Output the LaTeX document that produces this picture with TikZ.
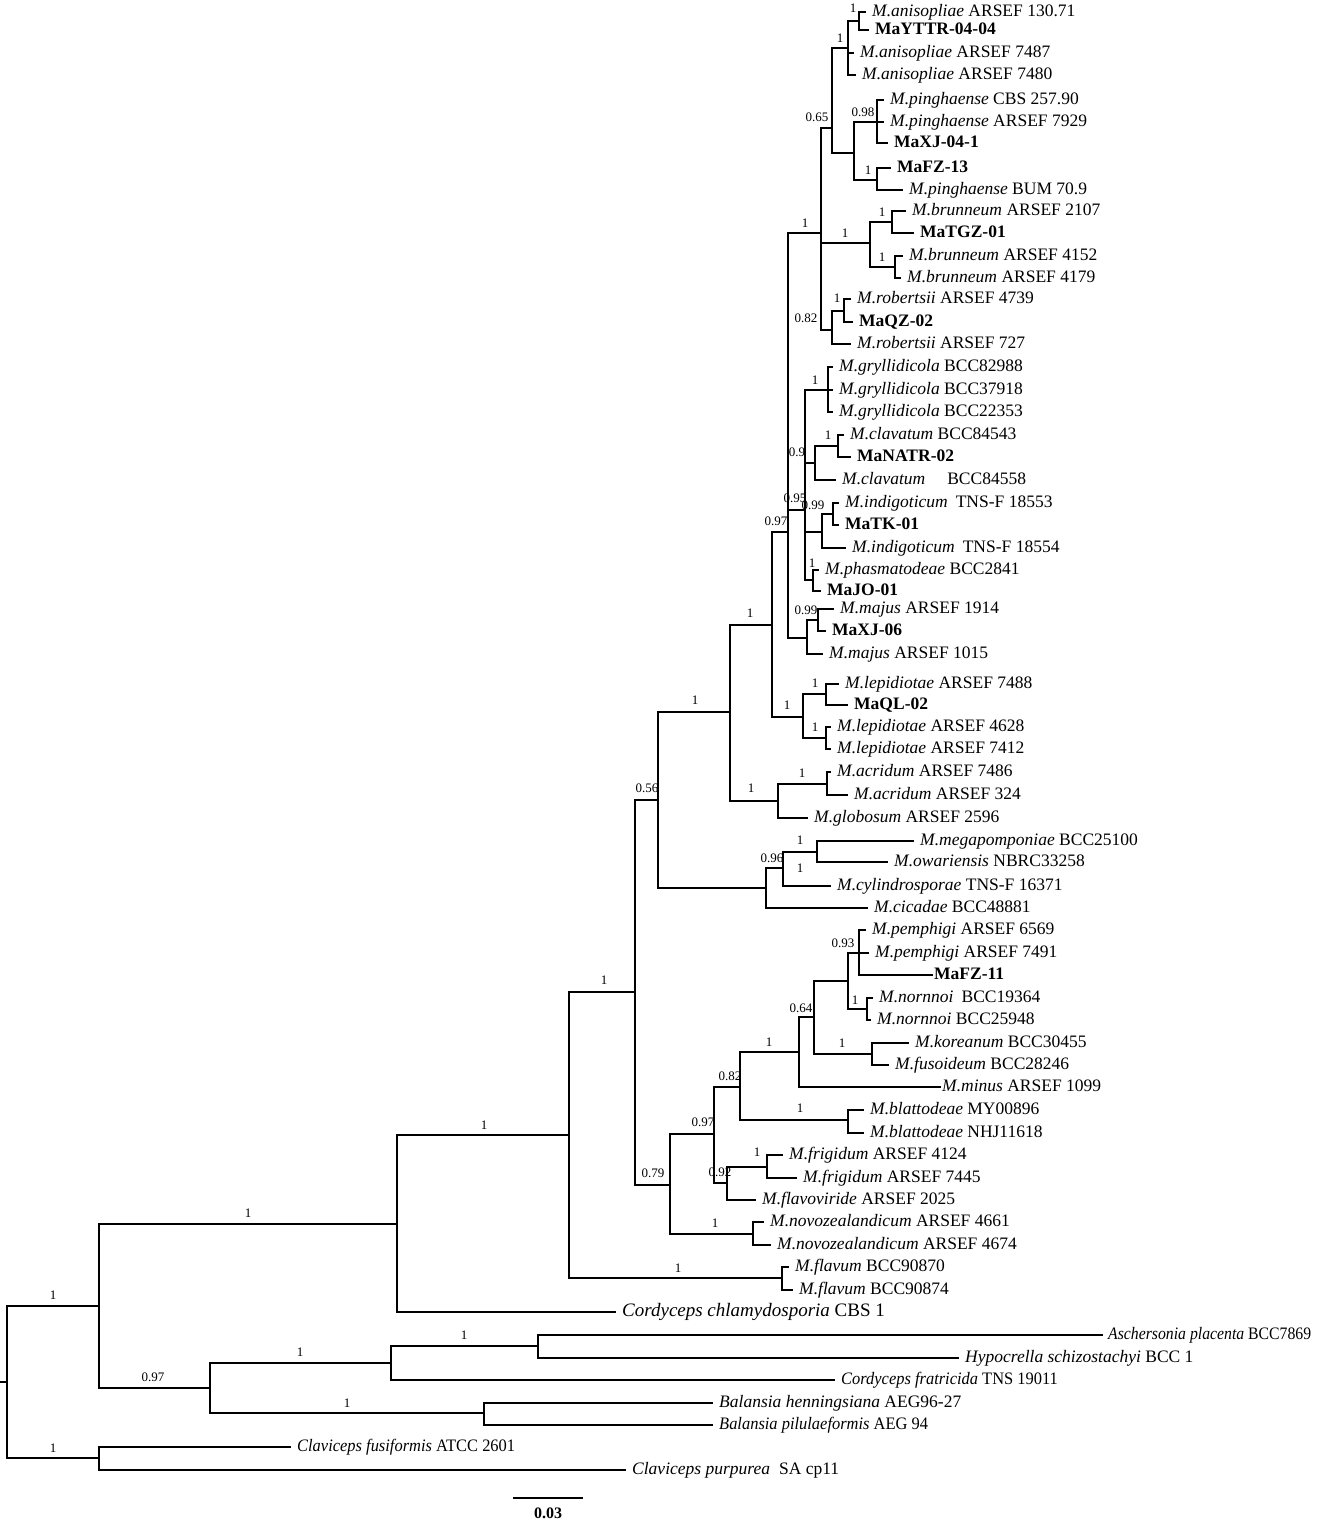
\documentclass[tikz,border=0pt]{standalone}
\usepackage{fontspec}
\usepackage{graphicx}
\setmainfont{Liberation Serif}
\usetikzlibrary{positioning}
\tikzset{br/.style={line width=2pt,line cap=rect}}
\tikzset{tip/.style={anchor=west,inner xsep=7pt,inner ysep=0pt,text height=12pt,text depth=3.5pt,font=\fontsize{17.5}{18}\selectfont}}
\tikzset{prob/.style={inner sep=0pt,font=\fontsize{13}{14}\selectfont}}
\newcommand{\Sp}[2]{\textit{#1} #2}
\newcommand{\Iso}[1]{\textbf{#1}}

\begin{document}
\begin{tikzpicture}[x=1pt,y=-1pt]
\useasboundingbox (0,0) rectangle (1325,1523);
% \draw[help lines] (0,0) grid[step=100] (1325,1523);
%
% internal nodes
\coordinate (root) at (7,1382);
\coordinate (rtick) at (1,1382);
\coordinate (nDD) at (99,1306);
\coordinate (nII) at (99,1458);
\coordinate (nCC) at (397,1224);
\coordinate (nEE) at (210,1388);
\coordinate (nFF) at (391,1363);
\coordinate (nGG) at (538,1346);
\coordinate (nHH) at (484,1413);
\coordinate (nBB) at (569,1135);
\coordinate (nFv) at (782,1278);
\coordinate (nAA) at (635,992);
\coordinate (nCc) at (670,1185);
\coordinate (nNz) at (753,1234);
\coordinate (nBf) at (714,1134);
\coordinate (nFr) at (727,1183);
\coordinate (nFr1) at (767,1167);
\coordinate (nBl) at (740,1087);
\coordinate (nBt) at (848,1120);
\coordinate (nMi) at (799,1052);
\coordinate (nPk) at (814,1017);
\coordinate (nKo) at (872,1054);
\coordinate (nPn) at (848,981);
\coordinate (nPm) at (859,953);
\coordinate (nNo) at (867,1009);
\coordinate (nY) at (658,800);
\coordinate (nZ) at (766,888);
\coordinate (nZ1) at (783,868);
\coordinate (nZ2) at (817,852);
\coordinate (nX) at (730,712);
\coordinate (nK) at (778,801);
\coordinate (nK1) at (827,784);
\coordinate (nW) at (772,625);
\coordinate (nL) at (803,717);
\coordinate (nL1) at (826,694);
\coordinate (nL2) at (826,738);
\coordinate (nU) at (788,532);
\coordinate (nM) at (807,638);
\coordinate (nM1) at (818,620);
\coordinate (nV) at (805,510);
\coordinate (nG) at (828,390);
\coordinate (nC) at (815,463);
\coordinate (nC1) at (838,446);
\coordinate (nI) at (822,532);
\coordinate (nI1) at (833,514);
\coordinate (nPh) at (813,580);
\coordinate (nT) at (821,233);
\coordinate (nR2) at (832,330);
\coordinate (nR1) at (844,311);
\coordinate (nB) at (870,243);
\coordinate (nB1) at (892,222);
\coordinate (nB2) at (895,267);
\coordinate (nS) at (832,128);
\coordinate (nA2) at (848,48);
\coordinate (nA1) at (859,21);
\coordinate (nR) at (854,153);
\coordinate (nP) at (877,122);
\coordinate (nQ) at (877,180);
%
% taxa
\node (anis1) [tip] at (865,12) {\Sp{M.anisopliae}{ARSEF 130.71}};
\node (mayttr) [tip] at (868,30) {\Iso{MaYTTR-04-04}};
\node (anis2) [tip] at (853,53) {\Sp{M.anisopliae}{ARSEF 7487}};
\node (anis3) [tip] at (855,75) {\Sp{M.anisopliae}{ARSEF 7480}};
\node (ping1) [tip] at (883,100) {\Sp{M.pinghaense}{CBS 257.90}};
\node (ping2) [tip] at (883,122) {\Sp{M.pinghaense}{ARSEF 7929}};
\node (maxjb) [tip] at (887,143) {\Iso{MaXJ-04-1}};
\node (mafza) [tip] at (890,168) {\Iso{MaFZ-13}};
\node (ping3) [tip] at (902,190) {\Sp{M.pinghaense}{BUM 70.9}};
\node (brun1) [tip] at (905,211) {\Sp{M.brunneum}{ARSEF 2107}};
\node (matgz) [tip] at (913,233) {\Iso{MaTGZ-01}};
\node (brun2) [tip] at (902,256) {\Sp{M.brunneum}{ARSEF 4152}};
\node (brun3) [tip] at (900,278) {\Sp{M.brunneum}{ARSEF 4179}};
\node (robe1) [tip] at (850,299) {\Sp{M.robertsii}{ARSEF 4739}};
\node (maqz) [tip] at (852,322) {\Iso{MaQZ-02}};
\node (robe2) [tip] at (850,344) {\Sp{M.robertsii}{ARSEF 727}};
\node (gryl1) [tip] at (832,367) {\Sp{M.gryllidicola}{BCC82988}};
\node (gryl2) [tip] at (832,390) {\Sp{M.gryllidicola}{BCC37918}};
\node (gryl3) [tip] at (832,412) {\Sp{M.gryllidicola}{BCC22353}};
\node (clav1) [tip] at (843,435) {\Sp{M.clavatum}{BCC84543}};
\node (manatr) [tip] at (850,457) {\Iso{MaNATR-02}};
\node (clav2) [tip] at (835,480) {\textit{M.clavatum}\hspace{22pt}BCC84558};
\node (indi1) [tip] at (838,503) {\textit{M.indigoticum}\hspace{8pt}TNS-F 18553};
\node (matk) [tip] at (838,525) {\Iso{MaTK-01}};
\node (indi2) [tip] at (845,548) {\textit{M.indigoticum}\hspace{8pt}TNS-F 18554};
\node (phas) [tip] at (818,570) {\Sp{M.phasmatodeae}{BCC2841}};
\node (majo) [tip] at (820,591) {\Iso{MaJO-01}};
\node (maju1) [tip] at (833,609) {\Sp{M.majus}{ARSEF 1914}};
\node (maxjc) [tip] at (825,631) {\Iso{MaXJ-06}};
\node (maju2) [tip] at (822,654) {\Sp{M.majus}{ARSEF 1015}};
\node (lepi1) [tip] at (838,684) {\Sp{M.lepidiotae}{ARSEF 7488}};
\node (maql) [tip] at (847,705) {\Iso{MaQL-02}};
\node (lepi2) [tip] at (830,727) {\Sp{M.lepidiotae}{ARSEF 4628}};
\node (lepi3) [tip] at (830,749) {\Sp{M.lepidiotae}{ARSEF 7412}};
\node (acri1) [tip] at (830,772) {\Sp{M.acridum}{ARSEF 7486}};
\node (acri2) [tip] at (847,795) {\Sp{M.acridum}{ARSEF 324}};
\node (glob) [tip] at (807,818) {\Sp{M.globosum}{ARSEF 2596}};
\node (mega) [tip] at (913,841) {\Sp{M.megapomponiae}{BCC25100}};
\node (owar) [tip] at (887,862) {\Sp{M.owariensis}{NBRC33258}};
\node (cyli) [tip] at (830,886) {\Sp{M.cylindrosporae}{TNS-F 16371}};
\node (cica) [tip] at (867,908) {\Sp{M.cicadae}{BCC48881}};
\node (pemp1) [tip] at (865,930) {\Sp{M.pemphigi}{ARSEF 6569}};
\node (pemp2) [tip] at (868,953) {\Sp{M.pemphigi}{ARSEF 7491}};
\node (mafzb) [tip,inner xsep=2pt] at (932,975) {\Iso{MaFZ-11}};
\node (norn1) [tip] at (872,998) {\textit{M.nornnoi}\hspace{8pt}BCC19364};
\node (norn2) [tip] at (870,1020) {\Sp{M.nornnoi}{BCC25948}};
\node (kore) [tip] at (908,1043) {\Sp{M.koreanum}{BCC30455}};
\node (fuso) [tip] at (888,1065) {\Sp{M.fusoideum}{BCC28246}};
\node (minu) [tip,inner xsep=2pt] at (940,1087) {\Sp{M.minus}{ARSEF 1099}};
\node (blat1) [tip] at (863,1110) {\Sp{M.blattodeae}{MY00896}};
\node (blat2) [tip] at (863,1133) {\Sp{M.blattodeae}{NHJ11618}};
\node (frig1) [tip] at (782,1155) {\Sp{M.frigidum}{ARSEF 4124}};
\node (frig2) [tip] at (796,1178) {\Sp{M.frigidum}{ARSEF 7445}};
\node (flvi) [tip] at (755,1200) {\Sp{M.flavoviride}{ARSEF 2025}};
\node (novo1) [tip] at (763,1222) {\Sp{M.novozealandicum}{ARSEF 4661}};
\node (novo2) [tip] at (770,1245) {\Sp{M.novozealandicum}{ARSEF 4674}};
\node (flvm1) [tip] at (788,1267) {\Sp{M.flavum}{BCC90870}};
\node (flvm2) [tip] at (792,1290) {\Sp{M.flavum}{BCC90874}};
\node (chla) [tip,font=\fontsize{19}{20}\selectfont] at (615,1312) {\Sp{Cordyceps chlamydosporia}{CBS 1}};
\node (asch) [tip,inner xsep=6pt] at (1102,1335) {\scalebox{0.9}[1]{\Sp{Aschersonia placenta}{BCC7869}}};
\node (hypo) [tip] at (958,1358) {\Sp{Hypocrella schizostachyi}{BCC 1}};
\node (frat) [tip] at (834,1380) {\scalebox{0.94}[1]{\Sp{Cordyceps fratricida}{TNS 19011}}};
\node (bhen) [tip] at (712,1403) {\Sp{Balansia henningsiana}{AEG96-27}};
\node (bpil) [tip] at (712,1425) {\scalebox{0.94}[1]{\Sp{Balansia pilulaeformis}{AEG 94}}};
\node (cfus) [tip] at (290,1447) {\scalebox{0.94}[1]{\Sp{Claviceps fusiformis}{ATCC 2601}}};
\node (cpur) [tip] at (625,1470) {\textit{Claviceps purpurea}\hspace{9pt}SA cp11};
%
% branches
\draw[br] (rtick) -- (root);
\foreach \c in {nDD,nII} \draw[br] (root) |- (\c);
\foreach \c in {nCC,nEE} \draw[br] (nDD) |- (\c);
\foreach \c in {cfus,cpur} \draw[br] (nII) |- (\c);
\foreach \c in {nBB,chla} \draw[br] (nCC) |- (\c);
\foreach \c in {nFF,nHH} \draw[br] (nEE) |- (\c);
\foreach \c in {nGG,frat} \draw[br] (nFF) |- (\c);
\foreach \c in {asch,hypo} \draw[br] (nGG) |- (\c);
\foreach \c in {bhen,bpil} \draw[br] (nHH) |- (\c);
\foreach \c in {nAA,nFv} \draw[br] (nBB) |- (\c);
\foreach \c in {flvm1,flvm2} \draw[br] (nFv) |- (\c);
\foreach \c in {nY,nCc} \draw[br] (nAA) |- (\c);
\foreach \c in {nBf,nNz} \draw[br] (nCc) |- (\c);
\foreach \c in {novo1,novo2} \draw[br] (nNz) |- (\c);
\foreach \c in {nBl,nFr} \draw[br] (nBf) |- (\c);
\foreach \c in {nFr1,flvi} \draw[br] (nFr) |- (\c);
\foreach \c in {frig1,frig2} \draw[br] (nFr1) |- (\c);
\foreach \c in {nMi,nBt} \draw[br] (nBl) |- (\c);
\foreach \c in {blat1,blat2} \draw[br] (nBt) |- (\c);
\foreach \c in {nPk,minu} \draw[br] (nMi) |- (\c);
\foreach \c in {nPn,nKo} \draw[br] (nPk) |- (\c);
\foreach \c in {kore,fuso} \draw[br] (nKo) |- (\c);
\foreach \c in {nPm,nNo} \draw[br] (nPn) |- (\c);
\foreach \c in {pemp1,pemp2,mafzb} \draw[br] (nPm) |- (\c);
\foreach \c in {norn1,norn2} \draw[br] (nNo) |- (\c);
\foreach \c in {nX,nZ} \draw[br] (nY) |- (\c);
\foreach \c in {nZ1,cica} \draw[br] (nZ) |- (\c);
\foreach \c in {nZ2,cyli} \draw[br] (nZ1) |- (\c);
\foreach \c in {mega,owar} \draw[br] (nZ2) |- (\c);
\foreach \c in {nW,nK} \draw[br] (nX) |- (\c);
\foreach \c in {nK1,glob} \draw[br] (nK) |- (\c);
\foreach \c in {acri1,acri2} \draw[br] (nK1) |- (\c);
\foreach \c in {nU,nL} \draw[br] (nW) |- (\c);
\foreach \c in {nL1,nL2} \draw[br] (nL) |- (\c);
\foreach \c in {lepi1,maql} \draw[br] (nL1) |- (\c);
\foreach \c in {lepi2,lepi3} \draw[br] (nL2) |- (\c);
\foreach \c in {nT,nV,nM} \draw[br] (nU) |- (\c);
\foreach \c in {nM1,maju2} \draw[br] (nM) |- (\c);
\foreach \c in {maju1,maxjc} \draw[br] (nM1) |- (\c);
\foreach \c in {nG,nC,nI,nPh} \draw[br] (nV) |- (\c);
\foreach \c in {gryl1,gryl2,gryl3} \draw[br] (nG) |- (\c);
\foreach \c in {nC1,clav2} \draw[br] (nC) |- (\c);
\foreach \c in {clav1,manatr} \draw[br] (nC1) |- (\c);
\foreach \c in {nI1,indi2} \draw[br] (nI) |- (\c);
\foreach \c in {indi1,matk} \draw[br] (nI1) |- (\c);
\foreach \c in {phas,majo} \draw[br] (nPh) |- (\c);
\foreach \c in {nS,nB,nR2} \draw[br] (nT) |- (\c);
\foreach \c in {nR1,robe2} \draw[br] (nR2) |- (\c);
\foreach \c in {robe1,maqz} \draw[br] (nR1) |- (\c);
\foreach \c in {nB1,nB2} \draw[br] (nB) |- (\c);
\foreach \c in {brun1,matgz} \draw[br] (nB1) |- (\c);
\foreach \c in {brun2,brun3} \draw[br] (nB2) |- (\c);
\foreach \c in {nA2,nR} \draw[br] (nS) |- (\c);
\foreach \c in {nA1,anis2,anis3} \draw[br] (nA2) |- (\c);
\foreach \c in {anis1,mayttr} \draw[br] (nA1) |- (\c);
\foreach \c in {nP,nQ} \draw[br] (nR) |- (\c);
\foreach \c in {ping1,ping2,maxjb} \draw[br] (nP) |- (\c);
\foreach \c in {mafza,ping3} \draw[br] (nQ) |- (\c);
%
% support values
\node (pA1) [prob] at (853,8) {1};
\node (pA2) [prob] at (840,38) {1};
\node (pS) [prob] at (817,117) {0.65};
\node (pP) [prob] at (863,112) {0.98};
\node (pQ) [prob] at (868,170) {1};
\node (pT) [prob] at (805,223) {1};
\node (pB) [prob] at (845,233) {1};
\node (pB1) [prob] at (882,212) {1};
\node (pB2) [prob] at (882,257) {1};
\node (pR1) [prob] at (837,298) {1};
\node (pR2) [prob] at (806,318) {0.82};
\node (pG) [prob] at (815,380) {1};
\node (pC) [prob] at (797,452) {0.9};
\node (pC1) [prob] at (828,435) {1};
\node (pV) [prob] at (795,498) {0.95};
\node (pI1) [prob] at (813,505) {0.99};
\node (pU) [prob] at (776,521) {0.97};
\node (pPh) [prob] at (812,563) {1};
\node (pM1) [prob] at (806,610) {0.99};
\node (pW) [prob] at (750,613) {1};
\node (pL) [prob] at (787,705) {1};
\node (pL1) [prob] at (815,683) {1};
\node (pL2) [prob] at (815,727) {1};
\node (pX) [prob] at (695,700) {1};
\node (pK) [prob] at (751,788) {1};
\node (pK1) [prob] at (802,773) {1};
\node (pY) [prob] at (647,788) {0.56};
\node (pZ) [prob] at (772,858) {0.96};
\node (pZ2) [prob] at (800,840) {1};
\node (pZ1) [prob] at (800,868) {1};
\node (pAA) [prob] at (604,980) {1};
\node (pPm) [prob] at (843,943) {0.93};
\node (pNo) [prob] at (855,1000) {1};
\node (pPk) [prob] at (801,1008) {0.64};
\node (pKo) [prob] at (842,1043) {1};
\node (pMi) [prob] at (769,1042) {1};
\node (pBl) [prob] at (730,1076) {0.82};
\node (pBt) [prob] at (800,1108) {1};
\node (pBf) [prob] at (703,1122) {0.97};
\node (pFr) [prob] at (720,1172) {0.92};
\node (pFr1) [prob] at (757,1152) {1};
\node (pCc) [prob] at (653,1173) {0.79};
\node (pNz) [prob] at (715,1223) {1};
\node (pFv) [prob] at (678,1268) {1};
\node (pBB) [prob] at (484,1125) {1};
\node (pCC) [prob] at (248,1213) {1};
\node (pDD) [prob] at (53,1295) {1};
\node (pEE) [prob] at (153,1377) {0.97};
\node (pFF) [prob] at (300,1352) {1};
\node (pGG) [prob] at (464,1335) {1};
\node (pHH) [prob] at (347,1403) {1};
\node (pII) [prob] at (53,1448) {1};
%
% scale bar
\coordinate (sbL) at (513,1498);
\coordinate (sbR) at (583,1498);
\draw[line width=1.4pt] (sbL) -- (sbR);
\node (sbtxt) [font=\fontsize{16}{17}\selectfont] at (548,1513) {\textbf{0.03}};
\end{tikzpicture}
\end{document}
